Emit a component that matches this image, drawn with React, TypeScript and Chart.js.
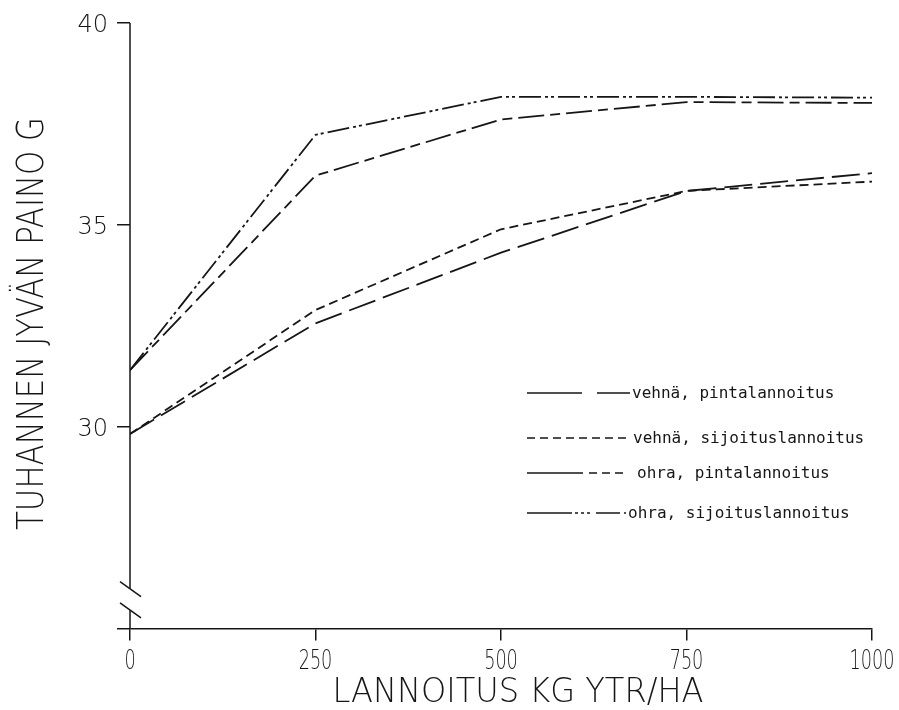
import React, { useEffect, useRef } from "react";
import { Chart, registerables } from "chart.js";

Chart.register(...registerables);

const xValues = [0, 250, 500, 750, 1000];
const vehnaPinta = [29.82, 32.56, 34.31, 35.84, 36.28];
const vehnaSijoitus = [29.82, 32.89, 34.89, 35.84, 36.07];
const ohraPinta = [31.4, 36.22, 37.61, 38.04, 38.02];
const ohraSijoitus = [31.4, 37.23, 38.17, 38.17, 38.15];

const xTickLabels = [0, 250, 500, 750, 1000];
const yTickLabels = [30, 35, 40];
const seriesNames = [
  "vehnä, pintalannoitus",
  "vehnä, sijoituslannoitus",
  "ohra, pintalannoitus",
  "ohra, sijoituslannoitus",
];
const xTitle = "LANNOITUS KG YTR/HA";
const yTitle = "TUHANNEN JYVÄN PAINO G";
const yMin = 25;
const yMax = 40;
const breakTop = 26.0;
const breakBottom = 25.45;

const INK = "#161616";
const THIN = '200 ';

const lineDashes = [
  [28, 8],
  [9, 5],
  [26, 6, 10, 6],
  [22, 4, 3, 3, 3, 4],
];
const legendDashes = [
  [55, 15, 40, 100],
  [8, 5],
  [56, 6, 8, 5, 8, 5, 8, 100],
  [45, 3, 3, 3, 3, 3, 3, 6, 24, 4, 6, 100],
];
const legendRows = [393, 438, 473, 513];
const legendTextX = [632, 633, 637, 628];

function toPoints(vals: number[]) {
  return vals.map((v, i) => ({ x: xValues[i], y: v }));
}

function drawScaledText(
  ctx: CanvasRenderingContext2D,
  text: string,
  x: number,
  y: number,
  font: string,
  sx: number,
  align: CanvasTextAlign
) {
  ctx.save();
  ctx.font = font;
  ctx.translate(x, y);
  ctx.scale(sx, 1);
  ctx.textAlign = align;
  ctx.textBaseline = "alphabetic";
  ctx.fillText(text, 0, 0);
  ctx.restore();
}

const decorPlugin = {
  id: "decor",
  afterDraw(chart: any) {
    const { ctx, chartArea, scales } = chart;
    const xs = scales.x;
    const ys = scales.y;
    ctx.save();
    ctx.strokeStyle = INK;
    ctx.fillStyle = INK;
    ctx.lineWidth = 1.5;
    ctx.setLineDash([]);

    // y axis line with break
    const ax = chartArea.left;
    const pTop = ys.getPixelForValue(breakTop);
    const pBot = ys.getPixelForValue(breakBottom);
    ctx.beginPath();
    ctx.moveTo(ax, chartArea.top);
    ctx.lineTo(ax, pTop);
    ctx.moveTo(ax, pBot);
    ctx.lineTo(ax, chartArea.bottom);
    ctx.stroke();
    // break slashes
    [pTop + 1, pBot].forEach((py) => {
      ctx.beginPath();
      ctx.moveTo(ax - 10, py - 7.5);
      ctx.lineTo(ax + 11, py + 7.5);
      ctx.stroke();
    });

    // y tick labels
    yTickLabels.forEach((v) => {
      const py = ys.getPixelForValue(v);
      drawScaledText(ctx, String(v), 108, py + 9, THIN + '24px "DejaVu Sans"', 1, "right");
    });
    // x tick labels
    xTickLabels.forEach((v) => {
      const px = xs.getPixelForValue(v);
      drawScaledText(ctx, String(v), px, 669, THIN + '26px "DejaVu Sans"', 0.68, "center");
    });

    // x title
    ctx.font = THIN + '34px "DejaVu Sans"';
    const xw = ctx.measureText(xTitle).width;
    drawScaledText(ctx, xTitle, 518, 702, THIN + '34px "DejaVu Sans"', 371 / xw, "center");

    // y title
    ctx.font = THIN + '38px "DejaVu Sans"';
    const yw = ctx.measureText(yTitle).width;
    ctx.save();
    ctx.translate(43, 323.5);
    ctx.rotate(-Math.PI / 2);
    ctx.scale(413 / yw, 1);
    ctx.textAlign = "center";
    ctx.textBaseline = "alphabetic";
    ctx.fillText(yTitle, 0, 0);
    ctx.restore();

    // legend
    ctx.lineWidth = 1.6;
    seriesNames.forEach((name, i) => {
      const ly = legendRows[i];
      const endX = legendTextX[i] - 2;
      ctx.save();
      ctx.setLineDash(legendDashes[i]);
      ctx.beginPath();
      ctx.moveTo(527, ly);
      ctx.lineTo(endX, ly);
      ctx.stroke();
      ctx.restore();
      ctx.font = '16px "DejaVu Sans Mono"';
      ctx.textAlign = "left";
      ctx.textBaseline = "alphabetic";
      ctx.fillText(name, legendTextX[i], ly + 5);
    });

    ctx.restore();
  },
};

export default function App() {
  const ref = useRef<HTMLCanvasElement | null>(null);

  useEffect(() => {
    document.body.style.margin = "0";
    const canvas = ref.current;
    if (!canvas) return;
    const seriesValues = [vehnaPinta, vehnaSijoitus, ohraPinta, ohraSijoitus];
    const chart = new Chart(canvas, {
      type: "line",
      data: {
        datasets: seriesValues.map((vals, i) => ({
          label: seriesNames[i],
          data: toPoints(vals),
          borderColor: INK,
          borderWidth: 1.8,
          borderDash: lineDashes[i],
          pointRadius: 0,
          tension: 0,
          fill: false,
        })),
      },
      options: {
        animation: false,
        responsive: false,
        devicePixelRatio: 1,
        layout: { padding: { top: 23, right: 27, left: 0, bottom: 0 } },
        plugins: {
          legend: { display: false },
          tooltip: { enabled: false },
          title: { display: false },
        },
        scales: {
          x: {
            type: "linear",
            min: 0,
            max: 1000,
            ticks: { stepSize: 250, display: false },
            grid: {
              drawOnChartArea: false,
              drawTicks: true,
              tickLength: 12,
              color: INK,
              lineWidth: 1.5,
            },
            border: { display: true, color: INK, width: 1.5 },
            afterFit: (s: any) => {
              s.height = 81.5;
            },
          },
          y: {
            type: "linear",
            min: yMin,
            max: yMax,
            ticks: { stepSize: 5, display: false },
            grid: {
              drawOnChartArea: false,
              drawTicks: true,
              tickLength: 13,
              color: INK,
              lineWidth: 1.5,
            },
            border: { display: false },
            afterFit: (s: any) => {
              s.width = 130;
            },
          },
        },
      },
      plugins: [decorPlugin],
    } as any);
    return () => chart.destroy();
  }, []);

  return (
    <div style={{ position: "absolute", left: 0, top: 0, width: 899, height: 710, background: "#fff" }}>
      <canvas ref={ref} width={899} height={710} />
    </div>
  );
}
